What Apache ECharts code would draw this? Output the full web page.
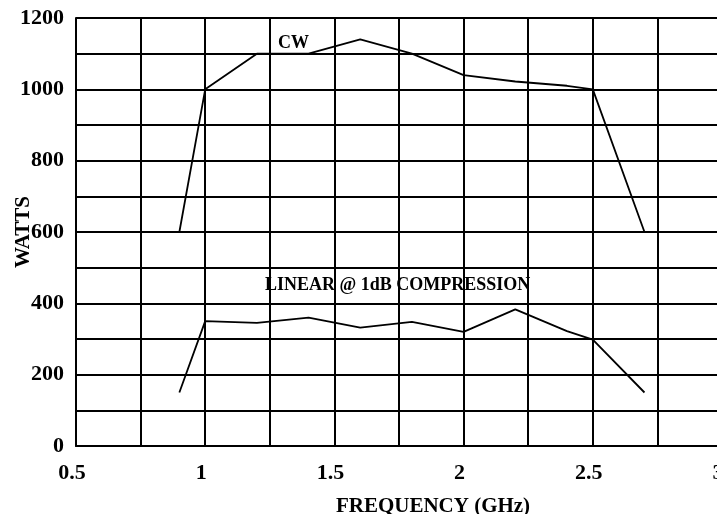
<!DOCTYPE html>
<html>
<head>
<meta charset="utf-8">
<script src="https://cdn.jsdelivr.net/npm/echarts@6/dist/echarts.min.js"></script>
<style>
html,body{margin:0;padding:0;background:#fff;}
#chart{width:717px;height:514px;}
</style>
</head>
<body>
<div id="chart"></div>
<script>
const frequencyGHz = [0.9, 1.0, 1.2, 1.4, 1.6, 1.8, 2.0, 2.2, 2.4, 2.5, 2.7];
const cwWatts = [600, 1000, 1100, 1100, 1140, 1100, 1040, 1022, 1010, 1000, 600];
const linearWatts = [150, 350, 345, 360, 332, 348, 320, 383, 322, 298, 150];
const xTickLabels = ['0.5', '1', '1.5', '2', '2.5', '3'];
const yTickLabels = ['0', '200', '400', '600', '800', '1000', '1200'];
const cwLabel = 'CW';
const linearLabel = 'LINEAR @ 1dB COMPRESSION';

const FONT = '"Liberation Serif", "Times New Roman", serif';
const chart = echarts.init(document.getElementById('chart'));

function pairs(xs, ys) { return xs.map((x, i) => [x, ys[i]]); }

chart.setOption({
  animation: false,
  backgroundColor: '#fff',
  grid: { left: 76, top: 18, width: 646, height: 428, containLabel: false, outerBoundsMode: 'none' },
  xAxis: {
    type: 'value', min: 0.5, max: 3, interval: 0.25,
    name: 'FREQUENCY (GHz)', nameLocation: 'middle', nameGap: 50, nameMoveOverlap: false,
    nameTextStyle: { fontFamily: FONT, fontWeight: 'bold', fontSize: 21, color: '#000', padding: [0, 0, 0, 68] },
    axisLine: { show: true, lineStyle: { color: '#000', width: 2 } },
    axisTick: { show: false },
    splitLine: { show: true, lineStyle: { color: '#000', width: 2 } },
    axisLabel: {
      fontFamily: FONT, fontWeight: 'bold', fontSize: 22, color: '#000', margin: 16,
      padding: [0, 8, 0, 0], hideOverlap: false,
      formatter: function (v) {
        const s = String(Math.round(v * 100) / 100);
        return xTickLabels.indexOf(s) >= 0 ? s : '';
      }
    }
  },
  yAxis: {
    type: 'value', min: 0, max: 1200, interval: 100,
    name: 'WATTS', nameLocation: 'middle', nameGap: 42, nameMoveOverlap: false,
    nameTextStyle: { fontFamily: FONT, fontWeight: 'bold', fontSize: 21, color: '#000' },
    axisLine: { show: true, lineStyle: { color: '#000', width: 2 } },
    axisTick: { show: false },
    splitLine: { show: true, lineStyle: { color: '#000', width: 2 } },
    axisLabel: {
      fontFamily: FONT, fontWeight: 'bold', fontSize: 22, color: '#000', margin: 12,
      padding: [12, 0, 0, 0],
      formatter: function (v) {
        const s = String(v);
        return yTickLabels.indexOf(s) >= 0 ? s : '';
      }
    }
  },
  graphic: [
    { type: 'text', x: 278, y: 43, z: 100,
      style: { text: cwLabel, fill: '#000', font: 'bold 18px ' + FONT, verticalAlign: 'middle', align: 'left' } },
    { type: 'text', x: 265, y: 285, z: 100,
      style: { text: linearLabel, fill: '#000', font: 'bold 18px ' + FONT, verticalAlign: 'middle', align: 'left' } }
  ],
  series: [
    { name: cwLabel, type: 'line', data: pairs(frequencyGHz, cwWatts), symbol: 'none',
      lineStyle: { color: '#000', width: 1.8 }, z: 5 },
    { name: linearLabel, type: 'line', data: pairs(frequencyGHz, linearWatts), symbol: 'none',
      lineStyle: { color: '#000', width: 1.8 }, z: 5 }
  ]
});
</script>
</body>
</html>
